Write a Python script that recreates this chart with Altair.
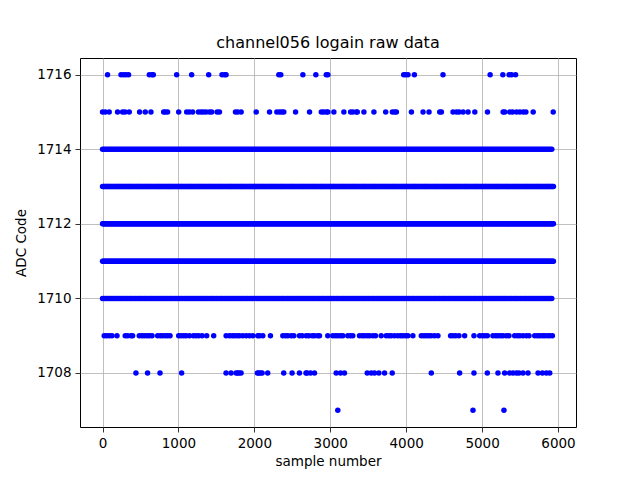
import altair as alt
import pandas as pd

# Sparse rows: sample numbers
code_1716 = [66, 243, 277, 309, 343, 616, 652, 669, 976, 1174, 1398, 1574, 1608, 1627,
             2322, 2348, 2639, 2810, 2947, 2968, 3967, 3993, 4024, 4108, 4485, 5106,
             5273, 5356, 5388, 5441]
code_1715 = [0, 36, 88, 198, 264, 296, 352, 488, 563, 638, 805, 827, 857, 1003, 1108,
             1144, 1187, 1263, 1298, 1329, 1364, 1408, 1438, 1509, 1540, 1751, 1781,
             1826, 2024, 2200, 2296, 2332, 2362, 2388, 2543, 2727, 2882, 2912, 2947,
             2968, 3047, 3179, 3268, 3298, 3343, 3356, 3443, 3575, 3730, 3818, 3848,
             3871, 4069, 4222, 4301, 4442, 4464, 4617, 4662, 4697, 4749, 4815, 4904,
             5071, 5277, 5299, 5365, 5401, 5453, 5497, 5541, 5577, 5673, 5937]
code_1709 = [22, 53, 88, 124, 190, 299, 330, 375, 396, 484, 520, 550, 586, 616, 652,
             726, 761, 792, 827, 857, 889, 1003, 1034, 1069, 1100, 1144, 1197, 1232,
             1266, 1311, 1372, 1464, 1628, 1671, 1707, 1737, 1773, 1803, 1847, 1892,
             1935, 1979, 2045, 2068, 2111, 2212, 2375, 2410, 2441, 2485, 2520, 2594,
             2630, 2683, 2718, 2763, 2793, 2836, 2858, 2967, 3033, 3069, 3099, 3135,
             3165, 3231, 3267, 3297, 3385, 3421, 3451, 3487, 3517, 3561, 3596, 3671,
             3737, 3772, 3803, 3847, 3890, 3926, 3956, 3992, 4022, 4088, 4199, 4233,
             4265, 4299, 4331, 4374, 4418, 4585, 4616, 4651, 4695, 4770, 4893, 4968,
             5003, 5034, 5069, 5143, 5179, 5209, 5245, 5275, 5320, 5354, 5429, 5465,
             5495, 5538, 5583, 5618, 5693, 5728, 5759, 5794, 5824, 5860, 5891, 5926]
code_1708 = [440, 593, 757, 1042, 1627, 1693, 1760, 1780, 1800, 1825, 2040, 2057, 2080,
             2102, 2176, 2387, 2497, 2594, 2680, 2695, 2740, 2792, 3078, 3135, 3187,
             3487, 3540, 3583, 3640, 3715, 3816, 4331, 4704, 4893, 5069, 5209, 5297,
             5363, 5407, 5452, 5486, 5539, 5605, 5737, 5795, 5847, 5891]
code_1707 = [3099, 4880, 5288]

# Dense rows: nearly continuous runs of samples (start, end, spacing)
dense_rows = {
    1714: (0, 5935, 22),
    1713: (0, 5940, 12),
    1712: (0, 5940, 10),
    1711: (0, 5940, 12),
    1710: (0, 5935, 22),
}

rows = []
for code, xs in [(1716, code_1716), (1715, code_1715), (1709, code_1709),
                 (1708, code_1708), (1707, code_1707)]:
    rows += [{"sample": x, "code": code} for x in xs]
for code, (s, e, step) in dense_rows.items():
    rows += [{"sample": x, "code": code} for x in range(s, e + 1, step)]
df = pd.DataFrame(rows)

x_ticks = [0, 1000, 2000, 3000, 4000, 5000, 6000]
y_ticks = [1708, 1710, 1712, 1714, 1716]

chart = alt.Chart(df).mark_circle(size=30, opacity=1, color="#0000ff").encode(
    x=alt.X("sample:Q", title="sample number",
            scale=alt.Scale(domain=[-297, 6237], nice=False, zero=False),
            axis=alt.Axis(values=x_ticks, format="d")),
    y=alt.Y("code:Q", title="ADC Code",
            scale=alt.Scale(domain=[1706.55, 1716.45], nice=False, zero=False),
            axis=alt.Axis(values=y_ticks, format="d")),
).properties(
    width=496, height=369,
    title=alt.TitleParams("channel056 logain raw data", fontSize=16, font="DejaVu Sans",
                          fontWeight="normal", offset=7, color="black"),
    autosize=alt.AutoSizeParams(type="none"),
    padding={"left": 72, "top": 50, "right": 56, "bottom": 45},
).configure_view(
    stroke="black", strokeWidth=1
).configure_axis(
    grid=True, gridColor="#b0b0b0", gridWidth=0.8,
    domain=False,
    tickColor="black", tickSize=5, tickWidth=0.8,
    labelColor="black", labelFont="DejaVu Sans", labelFontSize=13.5, labelPadding=4,
    titleColor="black", titleFont="DejaVu Sans", titleFontSize=13.5, titleFontWeight="normal",
).configure_axisX(titlePadding=5).configure_axisY(titlePadding=8)

chart.save("out.html", embed_options={"renderer": "svg", "actions": False})
